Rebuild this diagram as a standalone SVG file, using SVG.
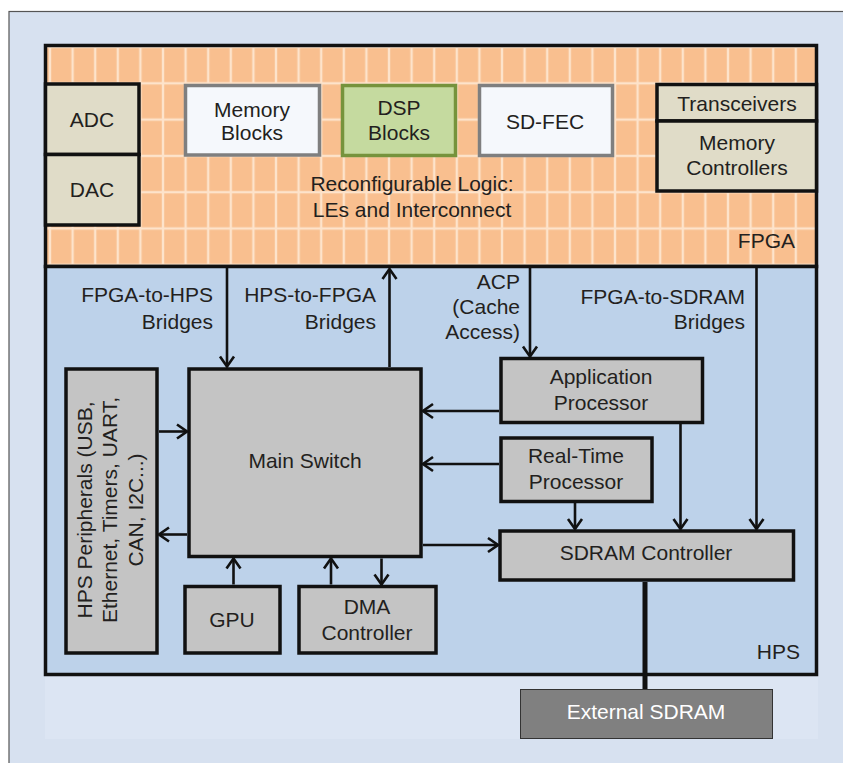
<svg xmlns="http://www.w3.org/2000/svg" width="843" height="763" viewBox="0 0 843 763">
  <defs>
    <!-- LE fabric: orange bricks separated by thin light gaps -->
    <pattern id="bricks" patternUnits="userSpaceOnUse" x="50" y="47" width="22.6" height="36.3">
      <rect width="22.6" height="36.3" fill="#fde3cb"/>
      <rect x="1.2" y="1.2" width="20.2" height="33.9" fill="#f9bf8f"/>
    </pattern>
    <marker id="arrow" markerUnits="userSpaceOnUse" viewBox="-12 -9 14 18" refX="0" refY="0" markerWidth="14" markerHeight="18" orient="auto">
      <path d="M-10,-7 L0,0 L-10,7" fill="none" stroke="#111" stroke-width="2.6" stroke-linejoin="miter"/>
    </marker>
  </defs>
  <style>
    text { font-family: "Liberation Sans", Arial, sans-serif; font-size: 21px; fill: #231f20; }
    .c { text-anchor: middle; }
    .r { text-anchor: end; }
    .blk { stroke: #111; stroke-width: 3.5; }
    .beige { fill: #e0dcc8; }
    .mem { fill: #f5f8fc; stroke: #7f7f7f; stroke-width: 3.5; }
    .dsp { fill: #c5da9f; stroke: #76933c; stroke-width: 3.5; }
    .gray { fill: #c4c4c4; }
    .conn line { stroke: #111; stroke-width: 2.6; }
  </style>

  <!-- page background and frame -->
  <rect x="0" y="0" width="843" height="763" fill="#ffffff"/>
  <rect x="9" y="11.5" width="840" height="760" fill="#d7e1f0" stroke="#555" stroke-width="1.2"/>
  <rect x="45" y="44" width="773" height="695" fill="#dce5f3"/>

  <!-- FPGA fabric -->
  <g id="fpga">
    <rect x="45.5" y="45.5" width="771" height="221" fill="url(#bricks)" class="blk"/>
    <text class="c" x="412" y="191">Reconfigurable Logic:</text>
    <text class="c" x="412" y="217">LEs and Interconnect</text>
    <text class="r" x="795" y="248">FPGA</text>
  </g>

  <!-- HPS region -->
  <g id="hps">
    <rect x="45.5" y="266.5" width="771" height="408" fill="#bdd2ea" class="blk"/>
    <text class="r" x="800" y="659">HPS</text>
  </g>

  <g id="adc">
    <rect x="45.5" y="84" width="93.5" height="70.5" class="beige blk"/>
    <text class="c" x="92" y="127">ADC</text>
  </g>
  <g id="dac">
    <rect x="45.5" y="154.5" width="93.5" height="70.5" class="beige blk"/>
    <text class="c" x="92" y="197">DAC</text>
  </g>
  <g id="memory-blocks">
    <rect x="185.5" y="85.5" width="134" height="69.5" class="mem"/>
    <text class="c" x="252" y="117">Memory</text>
    <text class="c" x="252" y="140">Blocks</text>
  </g>
  <g id="dsp-blocks">
    <rect x="342.5" y="85.5" width="113" height="70" class="dsp"/>
    <text class="c" x="399" y="115">DSP</text>
    <text class="c" x="399" y="140">Blocks</text>
  </g>
  <g id="sd-fec">
    <rect x="479.5" y="85.5" width="133" height="70" class="mem"/>
    <text class="c" x="545" y="128.5">SD-FEC</text>
  </g>
  <g id="transceivers">
    <rect x="657" y="84.5" width="159.5" height="36.5" class="beige blk"/>
    <text class="c" x="737" y="111">Transceivers</text>
  </g>
  <g id="memory-controllers">
    <rect x="657" y="121" width="159.5" height="70" class="beige blk"/>
    <text class="c" x="737" y="150">Memory</text>
    <text class="c" x="737" y="175">Controllers</text>
  </g>

  <g id="hps-peripherals">
    <rect x="66" y="369" width="91" height="284" class="gray blk"/>
    <g transform="translate(0,510) rotate(-90)">
      <text class="c" x="0" y="91.5">HPS Peripherals (USB,</text>
      <text class="c" x="0" y="117">Ethernet, Timers, UART,</text>
      <text class="c" x="0" y="143">CAN, I2C...)</text>
    </g>
  </g>
  <g id="main-switch">
    <rect x="189" y="369" width="232" height="187.5" class="gray blk"/>
    <text class="c" x="305" y="468">Main Switch</text>
  </g>
  <g id="gpu">
    <rect x="185" y="586.5" width="95" height="66.5" class="gray blk"/>
    <text class="c" x="232" y="627">GPU</text>
  </g>
  <g id="dma-controller">
    <rect x="299" y="586.5" width="137" height="66.5" class="gray blk"/>
    <text class="c" x="367" y="613.5">DMA</text>
    <text class="c" x="367" y="639.5">Controller</text>
  </g>
  <g id="application-processor">
    <rect x="501" y="358.5" width="201.5" height="64" class="gray blk"/>
    <text class="c" x="601" y="383.5">Application</text>
    <text class="c" x="601" y="409.5">Processor</text>
  </g>
  <g id="real-time-processor">
    <rect x="501" y="438" width="151" height="63.5" class="gray blk"/>
    <text class="c" x="576" y="463">Real-Time</text>
    <text class="c" x="576" y="489">Processor</text>
  </g>
  <g id="sdram-controller">
    <rect x="500" y="531" width="293.5" height="49" class="gray blk"/>
    <text class="c" x="646" y="560">SDRAM Controller</text>
  </g>
  <g id="external-sdram">
    <rect x="520.5" y="689.5" width="252" height="49" fill="#808080" stroke="#333" stroke-width="1"/>
    <text class="c" x="646" y="718.5" fill="#ffffff" style="fill:#ffffff">External SDRAM</text>
  </g>

  <!-- bridge labels -->
  <g id="labels">
    <text class="r" x="213" y="302">FPGA-to-HPS</text>
    <text class="r" x="213" y="328.5">Bridges</text>
    <text class="r" x="376" y="302">HPS-to-FPGA</text>
    <text class="r" x="376" y="328.5">Bridges</text>
    <text class="r" x="520" y="288.5">ACP</text>
    <text class="r" x="520" y="313.5">(Cache</text>
    <text class="r" x="520" y="338.5">Access)</text>
    <text class="r" x="745" y="303.5">FPGA-to-SDRAM</text>
    <text class="r" x="745" y="328.5">Bridges</text>
  </g>

  <!-- connectors -->
  <g id="connectors" class="conn">
    <line x1="227" y1="268" x2="227" y2="366.5" marker-end="url(#arrow)"/>
    <line x1="389.5" y1="367" x2="389.5" y2="269" marker-end="url(#arrow)"/>
    <line x1="530" y1="268" x2="530" y2="356.5" marker-end="url(#arrow)"/>
    <line x1="756.5" y1="268" x2="756.5" y2="529" marker-end="url(#arrow)"/>
    <line x1="680.5" y1="424" x2="680.5" y2="529" marker-end="url(#arrow)"/>
    <line x1="575" y1="503" x2="575" y2="529" marker-end="url(#arrow)"/>
    <line x1="499" y1="411" x2="423" y2="411" marker-end="url(#arrow)"/>
    <line x1="499" y1="464" x2="423" y2="464" marker-end="url(#arrow)"/>
    <line x1="423" y1="545" x2="498" y2="545" marker-end="url(#arrow)"/>
    <line x1="159" y1="431.5" x2="187" y2="431.5" marker-end="url(#arrow)"/>
    <line x1="187" y1="534.5" x2="159" y2="534.5" marker-end="url(#arrow)"/>
    <line x1="233.5" y1="584.5" x2="233.5" y2="558.5" marker-end="url(#arrow)"/>
    <line x1="331" y1="584.5" x2="331" y2="558.5" marker-end="url(#arrow)"/>
    <line x1="381.5" y1="558.5" x2="381.5" y2="584.5" marker-end="url(#arrow)"/>
    <line x1="645" y1="582" x2="645" y2="689" style="stroke-width:5"/>
  </g>
</svg>
